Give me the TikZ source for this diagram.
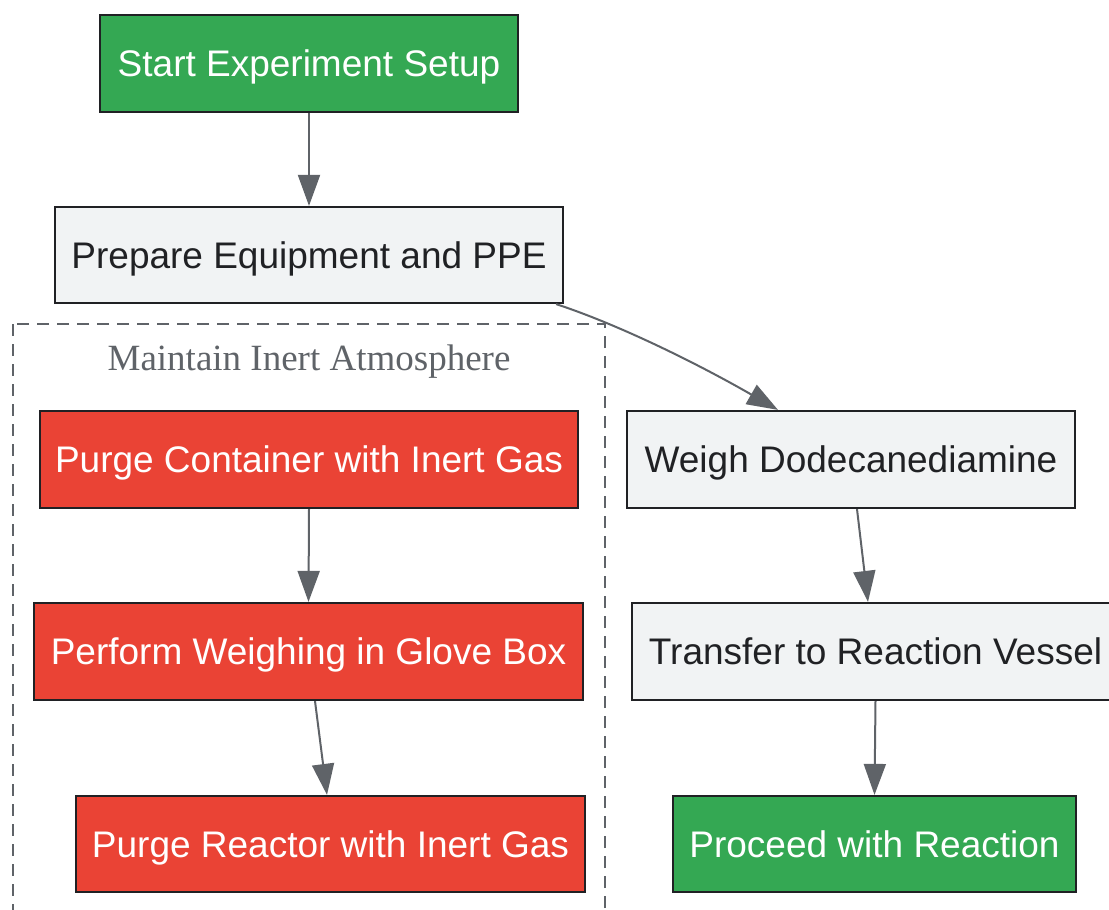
\documentclass[tikz,border=0pt]{standalone}
\usepackage{fontspec}
\setmainfont{Liberation Sans}
\newfontfamily\clusterfont{Liberation Serif}
\usetikzlibrary{arrows.meta}
\definecolor{ggreen}{HTML}{34A853}
\definecolor{gred}{HTML}{EA4335}
\definecolor{ggray}{HTML}{F1F3F4}
\definecolor{gdark}{HTML}{202124}
\definecolor{gline}{HTML}{5F6368}
\tikzset{
  box/.style={draw=gdark, line width=2.2pt, inner sep=0pt, anchor=center,
    text height=26.5pt, text depth=0pt,
    font=\fontsize{37}{44}\selectfont},
  greenbox/.style={box, fill=ggreen, text=white},
  redbox/.style={box, fill=gred, text=white},
  graybox/.style={box, fill=ggray, text=gdark},
  flow/.style={draw=gline, line width=2pt, -{Triangle[length=31pt,width=22pt]}},
  cluster/.style={draw=gline, line width=2.2pt, dash pattern=on 12pt off 8pt},
}
\begin{document}
\begin{tikzpicture}[x=1pt,y=-1pt]
\useasboundingbox (0,0) rectangle (1109,910);
% cluster
\draw[cluster] (13,324) rectangle (605,930);
\node[text=gline, inner sep=0pt, text height=24.5pt, text depth=0pt,
  font=\clusterfont\fontsize{37}{44}\selectfont] (clabel) at (309,358.5) {Maintain Inert Atmosphere};
% nodes
\node[greenbox, minimum width=418pt, minimum height=97pt] (start) at (309,63.5) {Start Experiment Setup};
\node[graybox, minimum width=508pt, minimum height=96pt] (prep) at (309,255) {Prepare Equipment and PPE};
\node[redbox, minimum width=538pt, minimum height=97pt] (pcont) at (309,459.5) {Purge Container with Inert Gas};
\node[redbox, minimum width=549pt, minimum height=97pt] (pweigh) at (308.5,651.5) {Perform Weighing in Glove Box};
\node[redbox, minimum width=509pt, minimum height=96pt] (preact) at (330.5,844) {Purge Reactor with Inert Gas};
\node[graybox, minimum width=448pt, minimum height=97pt] (weigh) at (851,459.5) {Weigh Dodecanediamine};
\node[graybox, minimum width=487pt, minimum height=97pt] (transfer) at (875.5,651.5) {Transfer to Reaction Vessel};
\node[greenbox, minimum width=403pt, minimum height=96pt] (proceed) at (874.5,844) {Proceed with Reaction};
% edges
\draw[flow] (start.south) -- (prep.north);
\draw[flow] ([xshift=-8pt]prep.south east) .. controls (620,325) and (700,365) .. ([xshift=-73pt]weigh.north);
\draw[flow] (pcont.south) -- (pweigh.north);
\draw[flow] ([xshift=6.5pt]pweigh.south) -- ([xshift=-3.5pt]preact.north);
\draw[flow] ([xshift=6pt]weigh.south) -- ([xshift=-7.5pt]transfer.north);
\draw[flow] (transfer.south) -- (proceed.north);
\end{tikzpicture}
\end{document}
